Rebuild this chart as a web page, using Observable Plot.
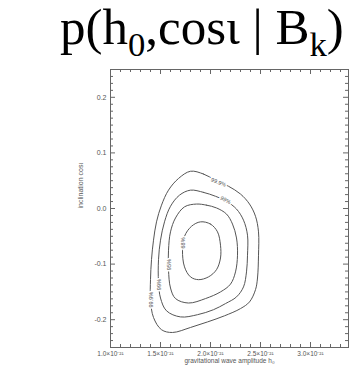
<!DOCTYPE html>
<html><head><meta charset="utf-8">
<script src="https://cdn.jsdelivr.net/npm/d3@7"></script>
<script src="https://cdn.jsdelivr.net/npm/@observablehq/plot@0.6"></script>
<style>
body{margin:0;background:#fff;width:356px;height:367px;overflow:hidden;position:relative;-webkit-font-smoothing:antialiased}
#title{position:absolute;left:60px;top:2px;font-family:"Liberation Serif","Times New Roman",serif;font-size:51px;line-height:1;white-space:nowrap;color:#000}
#title sub{font-size:0.68em;vertical-align:-0.34em;line-height:0}
#chart{position:absolute;left:0;top:64px}
</style></head><body>
<div id="title">p(h<sub>0</sub>,cosι | B<sub>k</sub>)</div>
<div id="chart"></div>
<script>
// ---- data (h0 in units of 1e-21, cos iota) ----
const levels = ["68%", "95%", "99%", "99.9%"];
const contour68 = [[1.90,-0.024],[2.00,-0.028],[2.07,-0.042],[2.10,-0.066],[2.10,-0.089],[2.06,-0.110],[1.98,-0.123],[1.88,-0.128],[1.80,-0.123],[1.74,-0.105],[1.72,-0.075],[1.74,-0.050],[1.81,-0.032]];
const contour95 = [[1.86,0.008],[1.96,0.006],[2.06,0.001],[2.16,-0.010],[2.22,-0.028],[2.26,-0.053],[2.27,-0.084],[2.25,-0.114],[2.20,-0.136],[2.10,-0.150],[1.95,-0.162],[1.78,-0.170],[1.65,-0.162],[1.60,-0.143],[1.58,-0.110],[1.58,-0.075],[1.60,-0.042],[1.65,-0.017],[1.74,0.003]];
const contour99 = [[1.80,0.033],[1.93,0.029],[2.05,0.022],[2.16,0.013],[2.26,-0.001],[2.33,-0.021],[2.37,-0.048],[2.37,-0.084],[2.36,-0.114],[2.33,-0.141],[2.26,-0.159],[2.15,-0.171],[2.03,-0.182],[1.87,-0.191],[1.70,-0.195],[1.56,-0.184],[1.50,-0.161],[1.48,-0.132],[1.48,-0.092],[1.50,-0.057],[1.54,-0.024],[1.60,0.004],[1.69,0.024]];
const contour999 = [[1.80,0.067],[1.93,0.062],[2.05,0.051],[2.18,0.040],[2.30,0.026],[2.39,0.008],[2.45,-0.014],[2.48,-0.042],[2.48,-0.084],[2.47,-0.125],[2.45,-0.146],[2.39,-0.168],[2.30,-0.180],[2.14,-0.193],[1.97,-0.204],[1.80,-0.214],[1.62,-0.223],[1.51,-0.218],[1.43,-0.196],[1.40,-0.164],[1.40,-0.128],[1.41,-0.092],[1.43,-0.057],[1.46,-0.024],[1.51,0.006],[1.58,0.033],[1.68,0.054]];
const labelText = ["99.9%", "99%", "99.9%", "99%", "95%", "68%"];
const labelH    = [2.08, 2.15, 1.41, 1.49, 1.59, 1.73];
const labelC    = [0.047, 0.015, -0.164, -0.137, -0.101, -0.062];
const xMajor = [1.0, 1.5, 2.0, 2.5, 3.0];
const xTickLabels = ["1.0×10⁻²¹", "1.5×10⁻²¹", "2.0×10⁻²¹", "2.5×10⁻²¹", "3.0×10⁻²¹"];
const yMajor = [-0.2, -0.1, 0.0, 0.1, 0.2];
const yTickLabels = ["-0.2", "-0.1", "0.0", "0.1", "0.2"];
const xLabel = "gravitational wave amplitude h₀";
const yLabel = "inclination cosι";

// ---- build tables ----
const contourSets = [contour68, contour95, contour99, contour999];
const lines = contourSets.flatMap((pts, i) => pts.map(([h, c]) => ({level: levels[i], h, c})));
const labels = labelText.map((t, i) => ({t, h: labelH[i], c: labelC[i]}));
const labelRotate = [22, 28, -90, -90, -90, -90];
const xMinor = d3.range(11, 34).map(d => d / 10).filter(d => !xMajor.some(m => Math.abs(m - d) < 1e-9));
const yMinor = d3.range(-20, 21).map(d => d * 0.0125).filter(d => !yMajor.some(m => Math.abs(m - d) < 1e-9));

const W = 356, H = 303, mT = 5, mB = 20, mL = 110, mR = 8;
const pH = H - mT - mB, pW = W - mL - mR;
const ax = "#666";
const fontSans = "'Liberation Sans', Arial, sans-serif";

const chart = Plot.plot({
  width: W, height: H,
  marginTop: mT, marginBottom: mB, marginLeft: mL, marginRight: mR,
  style: {background: "#fff", fontFamily: fontSans},
  x: {domain: [1.0, 3.38], axis: null},
  y: {domain: [-0.25, 0.25], axis: null},
  marks: [
    Plot.frame({stroke: ax, strokeWidth: 1}),
    Plot.tickX(xMajor, {x: d => d, insetTop: pH - 5, stroke: ax}),
    Plot.tickX(xMinor, {x: d => d, insetTop: pH - 3, stroke: ax}),
    Plot.tickX(xMajor, {x: d => d, insetBottom: pH - 5, stroke: ax}),
    Plot.tickX(xMinor, {x: d => d, insetBottom: pH - 3, stroke: ax}),
    Plot.tickY(yMajor, {y: d => d, insetRight: pW - 5, stroke: ax}),
    Plot.tickY(yMinor, {y: d => d, insetRight: pW - 3, stroke: ax}),
    Plot.tickY(yMajor, {y: d => d, insetLeft: pW - 5, stroke: ax}),
    Plot.tickY(yMinor, {y: d => d, insetLeft: pW - 3, stroke: ax}),
    Plot.text(xMajor, {x: d => d, text: (d, i) => xTickLabels[i], frameAnchor: "bottom", dy: 6, lineAnchor: "middle", fontSize: 6.5, fill: "#555", style: "letter-spacing:0.3px"}),
    Plot.text(yMajor, {y: d => d, text: (d, i) => yTickLabels[i], frameAnchor: "left", dx: -4, textAnchor: "end", fontSize: 7, fill: "#555"}),
    Plot.text([xLabel], {text: d => d, frameAnchor: "bottom", dy: 15, fontSize: 6.5, fill: "#555"}),
    Plot.text([yLabel], {text: d => d, frameAnchor: "left", dx: -30, rotate: -90, fontSize: 7, fill: "#555"}),
    Plot.line(lines, {x: "h", y: "c", z: "level", curve: "catmull-rom-closed", stroke: "#555", strokeWidth: 1}),
    Plot.text(labels, {x: "h", y: "c", text: "t", rotate: (d, i) => labelRotate[i], fontSize: 5.5, fill: "#555", stroke: "#fff", strokeWidth: 3, paintOrder: "stroke"})
  ]
});
document.getElementById("chart").appendChild(chart);
</script>
</body></html>
